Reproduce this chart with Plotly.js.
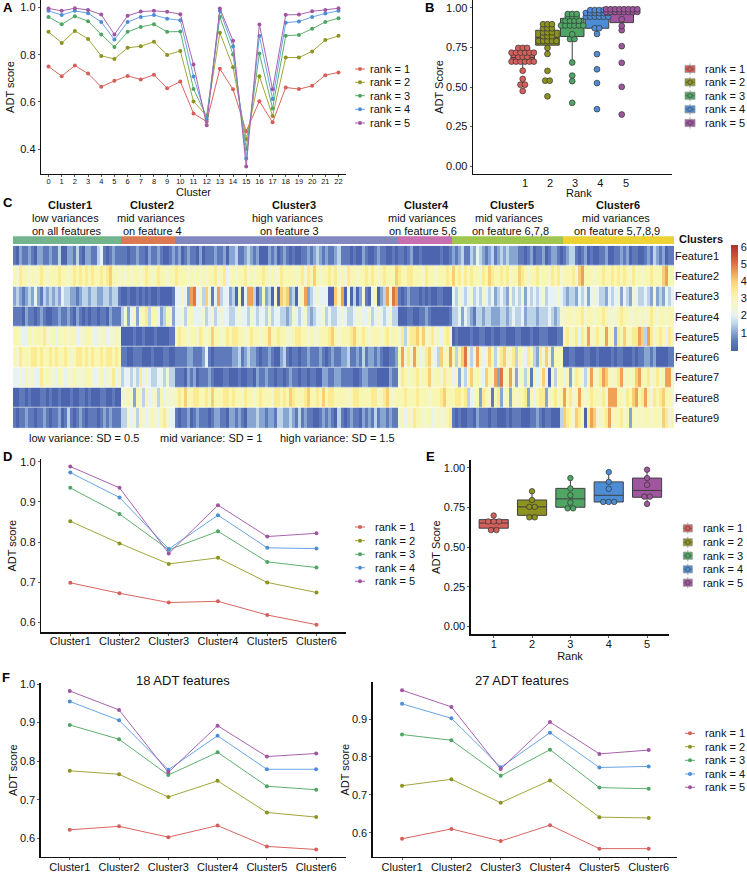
<!DOCTYPE html>
<html><head><meta charset="utf-8">
<script src="https://cdn.plot.ly/plotly-3.0.1.min.js"></script>
<style>html,body{margin:0;padding:0;background:#fff}</style></head>
<body><div id="chart" style="width:747px;height:873px"></div>
<script>
const W=747,H=873,FONT='"Liberation Sans", Arial, sans-serif';
const rankNames=['rank = 1','rank = 2','rank = 3','rank = 4','rank = 5'];
const lineColors=['#D9655F','#A3A53C','#5EAF70','#68A4E6','#A863AD'];
const fillColors=['#D55F5B','#8D9221','#4EA564','#4D8DD6','#A0559F'];

const clusterIdsA=['0','1','2','3','4','5','6','7','8','9','10','11','12','13','14','15','16','17','18','19','20','21','22'];
const a1=[.750,.709,.754,.720,.664,.689,.710,.695,.715,.658,.686,.551,.516,.740,.653,.475,.603,.513,.661,.654,.668,.713,.725];
const a2=[.897,.850,.901,.867,.795,.782,.829,.836,.855,.799,.816,.602,.540,.893,.747,.441,.709,.540,.788,.788,.814,.862,.880];
const a3=[.960,.929,.963,.942,.886,.833,.897,.918,.929,.897,.898,.655,.537,.960,.801,.400,.805,.572,.880,.884,.910,.939,.955];
const a4=[.986,.968,.986,.976,.939,.864,.939,.960,.968,.953,.946,.708,.525,.986,.835,.360,.879,.612,.936,.941,.960,.975,.986];
const a5=[.996,.986,.997,.990,.970,.886,.965,.983,.986,.982,.972,.758,.501,.996,.859,.326,.928,.653,.969,.970,.984,.990,.997];

const clusterNames=['Cluster1','Cluster2','Cluster3','Cluster4','Cluster5','Cluster6'];
const d1=[.699,.673,.650,.653,.619,.595];
const d2=[.852,.797,.746,.761,.700,.675];
const d3=[.935,.870,.781,.827,.751,.737];
const d4=[.973,.911,.783,.867,.786,.784];
const d5=[.988,.935,.772,.892,.814,.822];

const f18_1=[.622,.631,.603,.633,.579,.571];
const f18_2=[.775,.766,.707,.749,.667,.655];
const f18_3=[.894,.857,.764,.823,.735,.726];
const f18_4=[.955,.906,.778,.866,.779,.779];
const f18_5=[.982,.933,.771,.892,.812,.820];

const f27_1=[.584,.610,.578,.620,.558,.558];
const f27_2=[.724,.741,.679,.738,.641,.639];
const f27_3=[.859,.844,.750,.819,.719,.716];
const f27_4=[.940,.902,.773,.864,.772,.775];
const f27_5=[.976,.932,.768,.892,.808,.818];

const featureNames=['Feature1','Feature2','Feature3','Feature4','Feature5','Feature6','Feature7','Feature8','Feature9'];
const clusterSizes=[36,18,74,18,37,37];
const clusterColors=['#72B48E','#DB7A52','#8288BF','#C76FAF','#9FC74F','#EDD236'];
const f1=['102112102211211300221310221134101211','110112110211210012','1201211020111211202 2311232120002120121010011212321211231110100210012110010','110120010000001001','2123113243212312323222110120112012210','1233101201001120011212011001213212011'];
const f2=['657665656765666766567676767667678665','656566567656766566','7666565656566756745 6566756566765655766665675768656676756576656676765676668','766776665766566676','8675767665768766767566876566756657675','6667589666566766767676575656676668966'];
const f3=['232123242132323243322123323322332331','001001010100100001','4642 9A46 3851 4934 423 0604930262305087823056923 4544 0086 9050 3025 1046 0239 5A9','101211101010011000','4354345343543423432534352434345344454','3233243424543324345243254334325232434'];
const f4=['111021101210011211210210101101102111','352462567366423652','4453564445345345443 3454435434435344332354345323445343345433455445345434533','000110011210000001','3342432133233222332343342333233343235','5665667566566765556766556565676566566'];
const f5=['665446566675564656566455665455645565','000010010001000011','6766566576568665676 7766567665668667665567766565566678656667866765666567566','573677868567564675','0100001001100100110001100010011100011','6756747695675696627686577983975676476'];
const f6=['657666776766767667656776767667677676','110011100010001100','1111221112410111111 2231232210112100231011011211121012112231121312212100112','695759645785438569','6368A5359645863578557365476327585266 6','0011000110010000101100010112212000011'];
const f7=['445465544756554654556555665456455745','344343745433443533','1110212011121000110 0010011021121101101211011011002211221111001221110000211','576566756685665766','4625368565486592A56952563616458405366','4625765369567986567956568966756756995'];
const f8=['001101000110100100010011010001100100','556526536455364555','6768667766768666776 7665766567666577676876667866768677666656776666775678656','667666766656667866','6776734562765167256265667264677256756','9675696567665759996657689679657678665'];
const f9=['101121101121011201310121011101212111','335453654565467544','1011201211101221102 2121022232212213322321312110012121031012110212131221211','564657665564565567','1010011021110110001011100011210110003','8765876079855679566756265656656658756'];
const featureRows=[f1,f2,f3,f4,f5,f6,f7,f8,f9];
const colorStops=[[-.06,'#4A62AD'],[.5,'#5E7ABA'],[1,'#86A5D0'],[1.5,'#BCD3E7'],[2,'#E6F2F3'],[2.5,'#F2F6D0'],[3,'#F8F6B3'],[3.5,'#FBEB92'],[4,'#F8CF74'],[4.5,'#EFA256'],[5,'#DE7343'],[5.5,'#C9502F'],[6.1,'#AE3428']];
const colorTicks=[1,2,3,4,5,6];

const zRows=featureRows.map(segs=>{
  const out=[];
  segs.forEach((seg,i)=>{
    const s=seg.replace(/\s/g,''),n=clusterSizes[i];
    for(let k=0;k<n;k++) out.push(parseInt(s[Math.floor(k*s.length/n)],16)/2);
  });
  return out;
});

// px helpers
const px=x=>x/W, py=y=>1-y/H;
const dom=(l,r)=>[px(l),px(r)], domY=(t,b)=>[py(b),py(t)];
const tf={family:FONT,size:11,color:'#111'};
function axis(o){return Object.assign({showgrid:false,zeroline:false,showline:true,linecolor:'#111',linewidth:1.3,ticks:'outside',ticklen:2,tickwidth:.8,tickcolor:'#333',tickfont:tf,fixedrange:true,automargin:false},o);}
function ttl(text,standoff){return {text,standoff,font:{family:FONT,size:11,color:'#111'}};}

const traces=[];
function lines(series,xs,xa,ya){
  series.forEach((v,i)=>traces.push({type:'scatter',mode:'lines+markers',name:rankNames[i],x:xs,y:v,xaxis:xa,yaxis:ya,showlegend:false,
    line:{color:lineColors[i],width:1},marker:{color:fillColors[i],size:4}}));
}
function boxes(series,xa,ya,boxWidth,binW,stepX,size){
  series.forEach((v,i)=>{
    traces.push({type:'box',name:rankNames[i],x:v.map(()=>i+1),y:v,xaxis:xa,yaxis:ya,width:boxWidth,showlegend:false,whiskerwidth:0,
      boxpoints:'outliers',quartilemethod:'inclusive',marker:{opacity:0,size:1},fillcolor:fillColors[i],line:{color:'#3f3f3f',width:1}});
    const s=[...v].sort((a,b)=>a-b),xs=[],ys=[];
    let k=0;
    while(k<s.length){
      let j=k;while(j+1<s.length&&s[j+1]<s[k]+binW)j++;
      const c=(s[k]+s[j])/2,n=j-k+1;
      for(let m=0;m<n;m++){xs.push(i+1+(m-(n-1)/2)*stepX);ys.push(c);}
      k=j+1;
    }
    traces.push({type:'scatter',mode:'markers',name:rankNames[i],x:xs,y:ys,xaxis:xa,yaxis:ya,showlegend:false,
      marker:{color:fillColors[i],size:size,line:{color:'#333',width:.7}}});
  });
}
lines([a1,a2,a3,a4,a5],clusterIdsA,'x','y');
boxes([a1,a2,a3,a4,a5],'x2','y2',.95,.02,.18,5.8);
clusterSizes.forEach((n,i)=>traces.push({type:'bar',orientation:'h',x:[n],y:['Clusters'],name:clusterNames[i],xaxis:'x4',yaxis:'y4',marker:{color:clusterColors[i],line:{width:0}},showlegend:false}));
const zmin=colorStops[0][0],zmax=colorStops[colorStops.length-1][0];
traces.push({type:'heatmap',z:zRows,y:featureNames,xaxis:'x3',yaxis:'y3',zmin,zmax,ygap:.6,
  colorscale:colorStops.map(([v,c])=>[(v-zmin)/(zmax-zmin),c]),
  colorbar:{x:px(730.7),xanchor:'left',y:py(245),yanchor:'top',len:106/H,lenmode:'fraction',thickness:6.6,thicknessmode:'pixels',xpad:0,ypad:0,outlinewidth:0,tickvals:colorTicks,ticks:'',tickfont:tf}});
lines([d1,d2,d3,d4,d5],clusterNames,'x5','y5');
boxes([d1,d2,d3,d4,d5],'x6','y6',.76,.03,.143,5.5);
lines([f18_1,f18_2,f18_3,f18_4,f18_5],clusterNames,'x7','y7');
lines([f27_1,f27_2,f27_3,f27_4,f27_5],clusterNames,'x8','y8');

const ann=[],shapes=[];
function text(t,x,y,o){ann.push(Object.assign({text:t,xref:'paper',yref:'paper',x:px(x),y:py(y),showarrow:false,xanchor:'center',yanchor:'middle',font:tf},o||{}));}
[['A',8,8],['B',429,8],['C',8,202],['D',7,456],['E',430,456],['F',6,677]].forEach(([t,x,y])=>text('<b>'+t+'</b>',x,y,{font:{family:FONT,size:13,color:'#000'}}));
[['Cluster1',70],['Cluster2',152],['Cluster3',293.5],['Cluster4',426],['Cluster5',511.7],['Cluster6',618]].forEach(([t,x])=>text('<b>'+t+'</b>',x,205));
[['low variances',65],['mid variances',151],['high variances',287],['mid variances',422],['mid variances',509],['mid variances',615.7]].forEach(([t,x])=>text(t,x,218));
[['on all features',67],['on feature 4',152.7],['on feature 3',289],['on feature 5,6',423],['on feature 6,7,8',510],['on feature 5,7,8,9',616.7]].forEach(([t,x])=>text(t,x,231));
text('<b>Clusters</b>',677,239,{xanchor:'left'});
[['low variance: SD = 0.5',84],['mid variance: SD = 1',211],['high variance: SD = 1.5',337]].forEach(([t,x])=>text(t,x,438));
text('18 ADT features',183.3,680.7,{font:{family:FONT,size:13,color:'#111'}});
text('27 ADT features',521.7,680.7,{font:{family:FONT,size:13,color:'#111'}});
text('Rank',579,193);

function lineLegend(x0,x1,tx,ys){
  ys.forEach((y,i)=>{
    shapes.push({type:'line',xref:'paper',yref:'paper',x0:px(x0),x1:px(x1),y0:py(y),y1:py(y),line:{color:lineColors[i],width:1}});
    const c=(x0+x1)/2;
    shapes.push({type:'circle',xref:'paper',yref:'paper',x0:px(c-2),x1:px(c+2),y0:py(y+2),y1:py(y-2),fillcolor:fillColors[i],line:{width:0}});
    text(rankNames[i],tx,y,{xanchor:'left'});
  });
}
function boxLegend(x0,x1,tx,ys){
  ys.forEach((y,i)=>{
    const c=(x0+x1)/2,p={xref:'paper',yref:'paper'};
    shapes.push({...p,type:'line',x0:px(c),x1:px(c),y0:py(y-5.5),y1:py(y+5.5),line:{color:'#777',width:.7}});
    shapes.push({...p,type:'rect',x0:px(x0),x1:px(x1),y0:py(y+3.6),y1:py(y-3.6),fillcolor:fillColors[i],line:{color:'#999',width:.8}});
    shapes.push({...p,type:'line',x0:px(x0),x1:px(x1),y0:py(y),y1:py(y),line:{color:'#555',width:.6}});
    shapes.push({...p,type:'circle',x0:px(c-2.2),x1:px(c+2.2),y0:py(y+2.2),y1:py(y-2.2),fillcolor:fillColors[i],line:{color:'#444',width:.6}});
    text(rankNames[i],tx,y,{xanchor:'left'});
  });
}
lineLegend(355,365,368,[69,82.3,95.7,109.3,123]);
boxLegend(685,695,702.7,[69,82.3,95.7,109.3,123]);
lineLegend(355,365,372.7,[527,540.7,554.3,567.7,581.3]);
boxLegend(683.3,692.3,700.7,[528.3,542.3,555.7,569.3,582.7]);
lineLegend(685,695,703,[733.3,746.7,760.3,774,787.3]);

const layout={width:W,height:H,margin:{l:0,r:0,t:0,b:0},paper_bgcolor:'#fff',plot_bgcolor:'rgba(0,0,0,0)',showlegend:false,
  barmode:'stack',bargap:0,boxmode:'overlay',font:tf,annotations:ann,shapes,
  xaxis:axis({domain:dom(41,346),type:'category',categoryorder:'array',categoryarray:clusterIdsA,range:[-.57,22.57],tickfont:{family:FONT,size:7.5,color:'#111'},anchor:'y',ticklabelstandoff:-2,title:ttl('Cluster',0),tickangle:0,dtick:1}),
  yaxis:axis({domain:domY(0,174),range:[.294,1.032],tickvals:[.4,.6,.8,1],tickformat:'.1f',anchor:'x',title:ttl('ADT score',3)}),
  xaxis2:axis({domain:dom(473,672),range:[-1.008,7.03],tickvals:[1.09,2.1,3.11,4.13,5.17],ticktext:['1','2','3','4','5'],ticks:'',ticklen:0,ticklabelstandoff:-2,anchor:'y2'}),
  yaxis2:axis({domain:domY(0,174),range:[-.05,1.05],tickvals:[0,.25,.5,.75,1],tickformat:'.2f',anchor:'x2',title:ttl('ADT Score',0)}),
  xaxis3:{domain:dom(13,674),range:[-.5,219.5],visible:false,fixedrange:true,anchor:'y3'},
  yaxis3:{domain:domY(245.7,428.3),side:'right',type:'category',range:[8.5,-.5],showline:false,showgrid:false,zeroline:false,ticks:'',tickfont:tf,fixedrange:true,anchor:'x3'},
  xaxis4:{domain:dom(13,674),range:[0,220],visible:false,fixedrange:true,anchor:'y4'},
  yaxis4:{domain:domY(236.3,244),visible:false,fixedrange:true,anchor:'x4'},
  xaxis5:axis({domain:dom(41,346),type:'category',range:[-.595,5.6],anchor:'y5',ticklabelstandoff:-4}),
  yaxis5:axis({domain:domY(459,632.3),range:[.576,1.0067],tickvals:[.6,.7,.8,.9,1],tickformat:'.1f',anchor:'x5',title:ttl('ADT score',1)}),
  xaxis6:axis({domain:dom(470.7,669.3),range:[.4,5.58],tickvals:[1,2,3,4,5],anchor:'y6',ticklabelstandoff:-3,title:ttl('Rank',0)}),
  yaxis6:axis({domain:domY(460,634.3),range:[-.05,1.049],tickvals:[0,.25,.5,.75,1],tickformat:'.2f',anchor:'x6',title:ttl('ADT Score',1)}),
  xaxis7:axis({domain:dom(40.7,345.7),type:'category',range:[-.59,5.6],anchor:'y7',ticklabelstandoff:-3}),
  yaxis7:axis({domain:domY(683.3,857),range:[.5515,1.002],tickvals:[.6,.7,.8,.9,1],tickformat:'.1f',anchor:'x7',title:ttl('ADT score',0)}),
  xaxis8:axis({domain:dom(372.7,677.3),type:'category',range:[-.595,5.58],anchor:'y8',ticklabelstandoff:-3}),
  yaxis8:axis({domain:domY(682.3,857),range:[.5359,.9969],tickvals:[.6,.7,.8,.9],tickformat:'.1f',anchor:'x8',title:ttl('ADT score',0)})
};
Plotly.newPlot('chart',traces,layout,{displayModeBar:false,staticPlot:true});
</script></body></html>
